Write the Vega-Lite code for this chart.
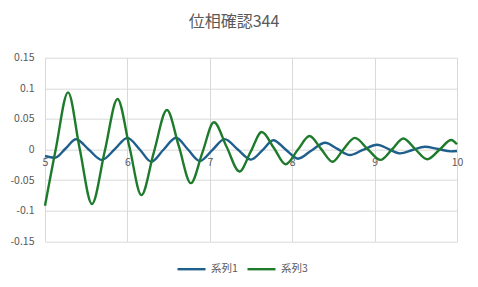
{
  "$schema": "https://vega.github.io/schema/vega-lite/v6.json",
  "width": 412,
  "height": 183.6,
  "autosize": {"type": "none"},
  "padding": {"left": 45, "top": 57.7, "right": 21, "bottom": 45.7},
  "background": "white",
  "title": {
    "text": "位相確認344",
    "font": "Noto Sans CJK JP",
    "fontSize": 16,
    "fontWeight": "normal",
    "color": "#595959",
    "anchor": "middle",
    "dx": -17,
    "baseline": "alphabetic",
    "offset": 10
  },
  "config": {
    "view": {"stroke": null},
    "axis": {
      "labelFont": "Noto Sans CJK JP",
      "labelFontSize": 10.5,
      "labelColor": "#595959",
      "gridColor": "#d9d9d9",
      "gridWidth": 1,
      "domain": false,
      "ticks": false,
      "title": null
    }
  },
  "data": {
    "values": [
      {"x": 5.00, "y": -0.0106, "s": "系列1"},
      {"x": 5.12, "y": -0.0134, "s": "系列1"},
      {"x": 5.25, "y": 0.0016, "s": "系列1"},
      {"x": 5.376, "y": 0.0167, "s": "系列1"},
      {"x": 5.53, "y": 0.0, "s": "系列1"},
      {"x": 5.69, "y": -0.017, "s": "系列1"},
      {"x": 5.85, "y": 0.001, "s": "系列1"},
      {"x": 6.00, "y": 0.019, "s": "系列1"},
      {"x": 6.15, "y": 0.0, "s": "系列1"},
      {"x": 6.29, "y": -0.020, "s": "系列1"},
      {"x": 6.44, "y": 0.0, "s": "系列1"},
      {"x": 6.59, "y": 0.0193, "s": "系列1"},
      {"x": 6.735, "y": 0.0, "s": "系列1"},
      {"x": 6.88, "y": -0.0188, "s": "系列1"},
      {"x": 7.03, "y": -0.001, "s": "系列1"},
      {"x": 7.18, "y": 0.017, "s": "系列1"},
      {"x": 7.34, "y": 0.0, "s": "系列1"},
      {"x": 7.50, "y": -0.0165, "s": "系列1"},
      {"x": 7.64, "y": -0.001, "s": "系列1"},
      {"x": 7.77, "y": 0.0152, "s": "系列1"},
      {"x": 7.92, "y": 0.0, "s": "系列1"},
      {"x": 8.07, "y": -0.015, "s": "系列1"},
      {"x": 8.23, "y": -0.002, "s": "系列1"},
      {"x": 8.40, "y": 0.011, "s": "系列1"},
      {"x": 8.55, "y": 0.001, "s": "系列1"},
      {"x": 8.70, "y": -0.009, "s": "系列1"},
      {"x": 8.86, "y": -0.0005, "s": "系列1"},
      {"x": 9.03, "y": 0.0078, "s": "系列1"},
      {"x": 9.17, "y": 0.0007, "s": "系列1"},
      {"x": 9.31, "y": -0.0063, "s": "系列1"},
      {"x": 9.46, "y": -0.0008, "s": "系列1"},
      {"x": 9.61, "y": 0.0046, "s": "系列1"},
      {"x": 9.77, "y": 0.0008, "s": "系列1"},
      {"x": 9.93, "y": -0.003, "s": "系列1"},
      {"x": 10.0, "y": -0.0025, "s": "系列1"},
      {"x": 5.00, "y": -0.092, "s": "系列3"},
      {"x": 5.13, "y": 0.0, "s": "系列3"},
      {"x": 5.28, "y": 0.0934, "s": "系列3"},
      {"x": 5.42, "y": 0.002, "s": "系列3"},
      {"x": 5.57, "y": -0.089, "s": "系列3"},
      {"x": 5.725, "y": -0.003, "s": "系列3"},
      {"x": 5.88, "y": 0.0825, "s": "系列3"},
      {"x": 6.025, "y": 0.004, "s": "系列3"},
      {"x": 6.17, "y": -0.0745, "s": "系列3"},
      {"x": 6.32, "y": -0.005, "s": "系列3"},
      {"x": 6.48, "y": 0.0645, "s": "系列3"},
      {"x": 6.625, "y": 0.005, "s": "系列3"},
      {"x": 6.77, "y": -0.055, "s": "系列3"},
      {"x": 6.91, "y": -0.005, "s": "系列3"},
      {"x": 7.05, "y": 0.0445, "s": "系列3"},
      {"x": 7.205, "y": 0.004, "s": "系列3"},
      {"x": 7.36, "y": -0.036, "s": "系列3"},
      {"x": 7.495, "y": -0.004, "s": "系列3"},
      {"x": 7.63, "y": 0.0285, "s": "系列3"},
      {"x": 7.78, "y": 0.002, "s": "系列3"},
      {"x": 7.92, "y": -0.024, "s": "系列3"},
      {"x": 8.07, "y": 0.0, "s": "系列3"},
      {"x": 8.21, "y": 0.022, "s": "系列3"},
      {"x": 8.35, "y": 0.001, "s": "系列3"},
      {"x": 8.49, "y": -0.020, "s": "系列3"},
      {"x": 8.62, "y": 0.0, "s": "系列3"},
      {"x": 8.76, "y": 0.019, "s": "系列3"},
      {"x": 8.92, "y": 0.0, "s": "系列3"},
      {"x": 9.07, "y": -0.017, "s": "系列3"},
      {"x": 9.21, "y": 0.0, "s": "系列3"},
      {"x": 9.35, "y": 0.018, "s": "系列3"},
      {"x": 9.49, "y": 0.001, "s": "系列3"},
      {"x": 9.64, "y": -0.016, "s": "系列3"},
      {"x": 9.79, "y": 0.0, "s": "系列3"},
      {"x": 9.93, "y": 0.0155, "s": "系列3"},
      {"x": 10.0, "y": 0.0085, "s": "系列3"}
    ]
  },
  "mark": {"type": "line", "interpolate": "monotone", "strokeWidth": 2.4},
  "encoding": {
    "x": {
      "field": "x",
      "type": "quantitative",
      "scale": {"domain": [5, 10], "nice": false, "zero": false},
      "axis": {
        "values": [5, 6, 7, 8, 9, 10],
        "grid": true,
        "offset": -91.8,
        "labelPadding": 8,
        "labelBaseline": "top",
        "labelFlush": false,
        "labelAlign": "center"
      }
    },
    "y": {
      "field": "y",
      "type": "quantitative",
      "scale": {"domain": [-0.15, 0.15], "nice": false},
      "axis": {
        "values": [-0.15, -0.1, -0.05, 0, 0.05, 0.1, 0.15],
        "grid": true,
        "labelPadding": 11,
        "labelExpr": "datum.value == 0 ? '0' : (datum.value < 0 ? '-' : '') + format(abs(datum.value), '~g')"
      }
    },
    "color": {
      "field": "s",
      "type": "nominal",
      "scale": {"domain": ["系列1", "系列3"], "range": ["#1F5F8D", "#1E7B2C"]},
      "legend": {
        "title": null,
        "orient": "none",
        "direction": "horizontal",
        "legendX": 131,
        "legendY": 196,
        "symbolType": "stroke",
        "symbolSize": 784,
        "symbolStrokeWidth": 2.4,
        "labelFont": "Noto Sans CJK JP",
        "labelFontSize": 10.5,
        "labelColor": "#595959",
        "labelOffset": 4,
        "columnPadding": 4
      }
    }
  }
}
